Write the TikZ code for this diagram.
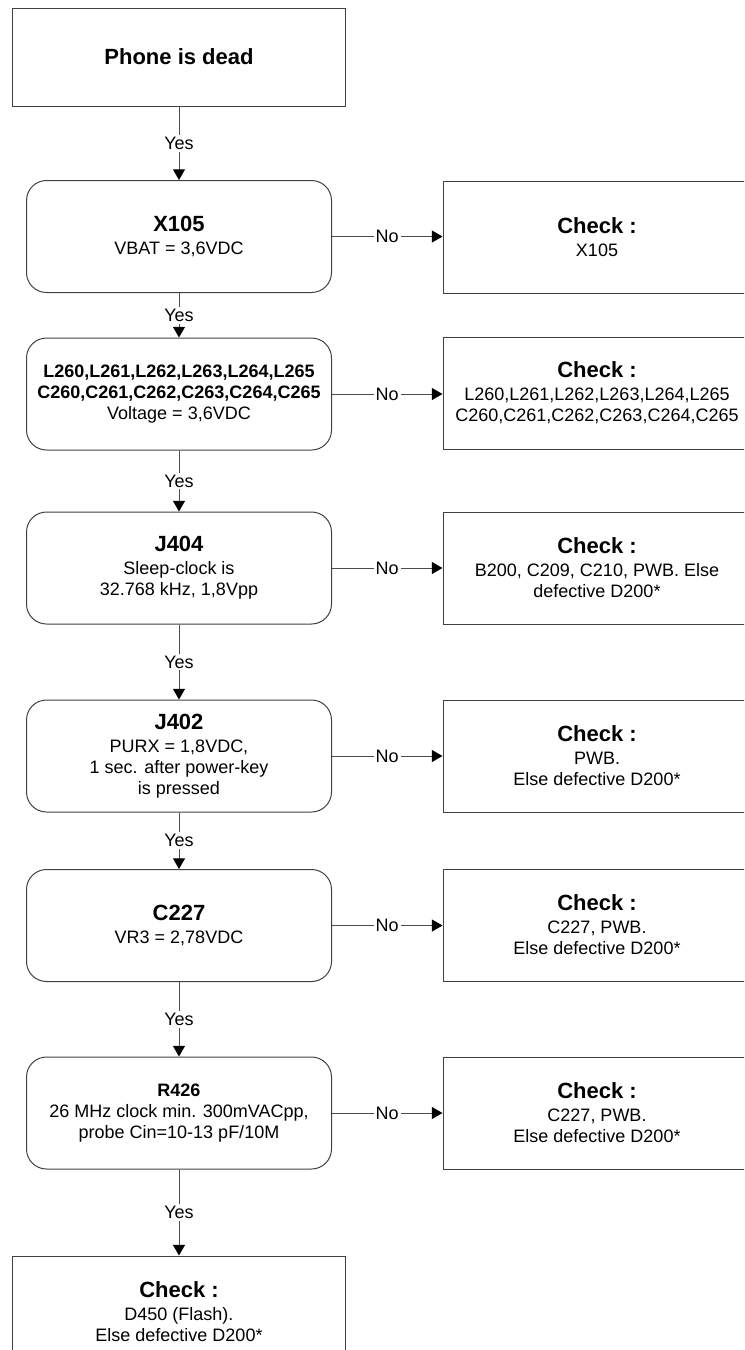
\documentclass[tikz,border=0pt]{standalone}
\usepackage{fontspec}
\setmainfont{Liberation Sans}
\usepackage{tikz}
\usetikzlibrary{arrows.meta}

\newcommand{\hd}[1]{{\bfseries\fontsize{16.5}{18}\selectfont #1}}

\begin{document}
\begin{tikzpicture}[x=0.75pt, y=-0.75pt,
    every node/.style={font=\fontsize{13.5}{15.75}\selectfont, align=center},
    stepbox/.style={draw=black!75, line width=0.75pt, minimum width=249.75pt},
    testbox/.style={draw=black!75, line width=0.75pt, rounded corners=15pt,
                    minimum width=228.75pt, minimum height=84pt},
    checkbox/.style={draw=black!75, line width=0.75pt, minimum width=231pt, minimum height=84pt},
    link/.style={draw=black!70, line width=0.75pt,
                 -{Triangle[length=8pt, width=9pt, color=black]}},
    lbl/.style={fill=white, inner sep=1.5pt}]

    \useasboundingbox (0, 0) rectangle (744, 1350);
    \clip (0, 0) rectangle (744, 1350);

    \node[stepbox, minimum height=73.5pt] (dead) at (179, 57) {\hd{Phone is dead}};

    \node[testbox] (x105) at (179, 236.5) {\hd{X105}\\[1.5pt] VBAT = 3,6VDC};
    \node[testbox] (lc) at (179, 394)
        {\textbf{L260,L261,L262,L263,L264,L265}\\ \textbf{C260,C261,C262,C263,C264,C265}\\ Voltage = 3,6VDC};
    \node[testbox] (j404) at (179, 568) {\hd{J404}\\[1.5pt] Sleep-clock is\\ 32.768 kHz, 1,8Vpp};
    \node[testbox] (j402) at (179, 756)
        {\hd{J402}\\[1.5pt] PURX = 1,8VDC,\\ 1 sec. after power-key\\ is pressed};
    \node[testbox] (c227) at (179, 925.5) {\hd{C227}\\[1.5pt] VR3 = 2,78VDC};
    \node[testbox] (r426) at (179, 1113)
        {\textbf{R426}\\ 26 MHz clock min. 300mVACpp,\\ probe Cin=10-13 pF/10M};

    \node[stepbox, minimum height=84pt] (flash) at (179, 1312)
        {\hd{Check :}\\[1.5pt] D450 (Flash).\\ Else defective D200*};

    \node[checkbox] (ck1) at (597, 237) {\hd{Check :}\\[1.5pt] X105};
    \node[checkbox] (ck2) at (597, 393)
        {\hd{Check :}\\[1.5pt] L260,L261,L262,L263,L264,L265\\ C260,C261,C262,C263,C264,C265};
    \node[checkbox] (ck3) at (597, 568) {\hd{Check :}\\[1.5pt] B200, C209, C210, PWB. Else\\ defective D200*};
    \node[checkbox] (ck4) at (597, 756) {\hd{Check :}\\[1.5pt] PWB.\\ Else defective D200*};
    \node[checkbox] (ck5) at (597, 925) {\hd{Check :}\\[1.5pt] C227, PWB.\\ Else defective D200*};
    \node[checkbox] (ck6) at (597, 1113) {\hd{Check :}\\[1.5pt] C227, PWB.\\ Else defective D200*};

    \draw[link] (dead) -- node[lbl] {Yes} (x105);
    \draw[link] (x105) -- node[lbl] {Yes} (lc);
    \draw[link] (lc) -- node[lbl] {Yes} (j404);
    \draw[link] (j404) -- node[lbl] {Yes} (j402);
    \draw[link] (j402) -- node[lbl] {Yes} (c227);
    \draw[link] (c227) -- node[lbl] {Yes} (r426);
    \draw[link] (r426) -- node[lbl] {Yes} (flash);

    \draw[link] (x105) -- node[lbl] {No} (x105 -| ck1.west);
    \draw[link] (lc) -- node[lbl] {No} (lc -| ck2.west);
    \draw[link] (j404) -- node[lbl] {No} (ck3);
    \draw[link] (j402) -- node[lbl] {No} (ck4);
    \draw[link] (c227) -- node[lbl] {No} (c227 -| ck5.west);
    \draw[link] (r426) -- node[lbl] {No} (ck6);
\end{tikzpicture}
\end{document}
